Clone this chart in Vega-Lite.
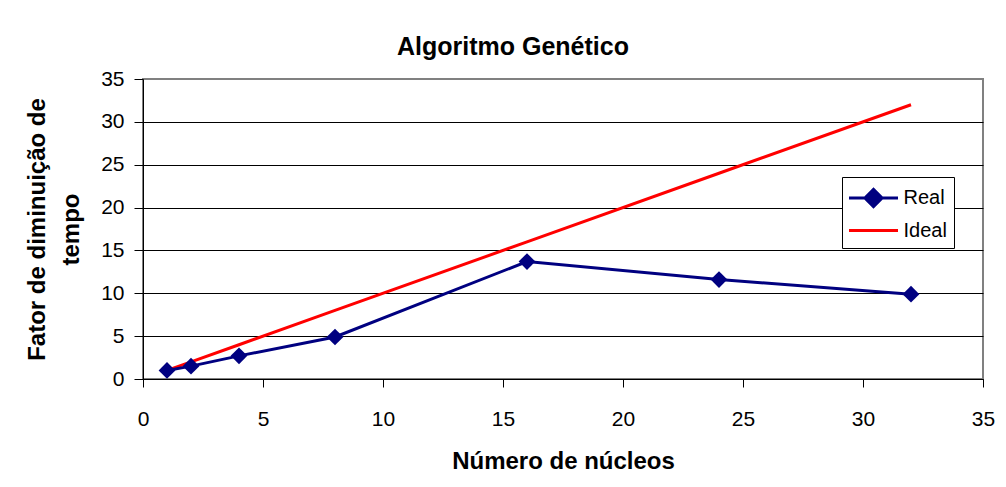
{
  "$schema": "https://vega.github.io/schema/vega-lite/v6.json",
  "autosize": {"type": "none"},
  "width": 840,
  "height": 300,
  "padding": {"left": 143, "top": 79, "right": 23, "bottom": 108},
  "background": "white",
  "config": {
    "font": "Liberation Sans",
    "view": {"stroke": "#808080", "strokeWidth": 2}
  },
  "title": {
    "text": "Algoritmo Genético",
    "font": "Liberation Sans",
    "fontSize": 25,
    "fontWeight": "bold",
    "color": "black",
    "anchor": "middle",
    "dx": -50,
    "offset": 8
  },
  "data": {
    "values": [
      {"n": 1, "v": 1, "s": "Real"},
      {"n": 2, "v": 1.5, "s": "Real"},
      {"n": 4, "v": 2.7, "s": "Real"},
      {"n": 8, "v": 4.9, "s": "Real"},
      {"n": 16, "v": 13.7, "s": "Real"},
      {"n": 24, "v": 11.6, "s": "Real"},
      {"n": 32, "v": 9.9, "s": "Real"},
      {"n": 1, "v": 1, "s": "Ideal"},
      {"n": 2, "v": 2, "s": "Ideal"},
      {"n": 4, "v": 4, "s": "Ideal"},
      {"n": 8, "v": 8, "s": "Ideal"},
      {"n": 16, "v": 16, "s": "Ideal"},
      {"n": 24, "v": 24, "s": "Ideal"},
      {"n": 32, "v": 32, "s": "Ideal"}
    ]
  },
  "encoding": {
    "x": {
      "field": "n",
      "type": "quantitative",
      "scale": {"domain": [0, 35], "nice": false, "zero": false},
      "axis": {
        "title": "Número de núcleos",
        "values": [0, 5, 10, 15, 20, 25, 30, 35],
        "grid": false,
        "domainColor": "black",
        "domainWidth": 1,
        "tickColor": "black",
        "tickSize": 8,
        "labelFont": "Liberation Sans",
        "labelFontSize": 21,
        "labelColor": "black",
        "labelPadding": 21,
        "labelFlush": false,
        "labelOverlap": false,
        "titleFont": "Liberation Sans",
        "titleFontSize": 24,
        "titleFontWeight": "bold",
        "titleColor": "black",
        "titleBaseline": "alphabetic",
        "titleY": 89
      }
    },
    "y": {
      "field": "v",
      "type": "quantitative",
      "scale": {"domain": [0, 35], "nice": false, "zero": false},
      "axis": {
        "title": ["Fator de diminuição de", "tempo"],
        "values": [0, 5, 10, 15, 20, 25, 30, 35],
        "grid": true,
        "gridColor": {"condition": {"test": "datum.value === 35", "value": "#808080"}, "value": "black"},
        "gridWidth": 1,
        "domainColor": "black",
        "domainWidth": 1,
        "tickColor": "black",
        "tickSize": 9,
        "labelFont": "Liberation Sans",
        "labelFontSize": 21,
        "labelColor": "black",
        "labelPadding": 10,
        "labelFlush": false,
        "labelOverlap": false,
        "titleFont": "Liberation Sans",
        "titleFontSize": 24,
        "titleFontWeight": "bold",
        "titleColor": "black",
        "titleAngle": 270,
        "titleAlign": "center",
        "titleBaseline": "alphabetic",
        "titleLineHeight": 34,
        "titleX": -99,
        "titleY": 150
      }
    },
    "color": {
      "field": "s",
      "type": "nominal",
      "scale": {"domain": ["Real", "Ideal"], "range": ["#000080", "#FF0000"]},
      "legend": {
        "title": null,
        "orient": "none",
        "legendX": 699,
        "legendY": 98,
        "direction": "vertical",
        "fillColor": "white",
        "strokeColor": "black",
        "padding": 7,
        "symbolType": "M-2,0L2,0",
        "symbolSize": 600.25,
        "symbolStrokeWidth": 3,
        "labelFont": "Liberation Sans",
        "labelFontSize": 20,
        "labelColor": "black",
        "labelOffset": 26.5,
        "rowPadding": 3.5,
        "encode": {
          "symbols": {
            "update": {
              "x": {"value": 24.5},
              "shape": {"signal": "datum.value === 'Real' ? 'M-2,0L2,0M-0.7,0L0,-0.7L0.7,0L0,0.7Z' : 'M-2,0L2,0'"},
              "fill": {"signal": "datum.value === 'Real' ? '#000080' : 'transparent'"},
              "fillOpacity": {"value": 1}
            }
          }
        }
      }
    }
  },
  "layer": [
    {
      "transform": [{"filter": "datum.s === 'Ideal'"}],
      "mark": {"type": "line", "strokeWidth": 3}
    },
    {
      "transform": [{"filter": "datum.s === 'Real'"}],
      "mark": {"type": "line", "strokeWidth": 3}
    },
    {
      "transform": [{"filter": "datum.s === 'Real'"}],
      "mark": {"type": "point", "shape": "diamond", "size": 280, "filled": true, "opacity": 1}
    }
  ]
}
